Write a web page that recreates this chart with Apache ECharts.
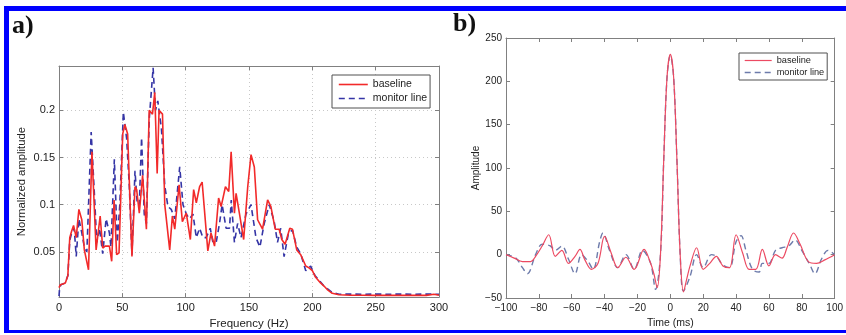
<!DOCTYPE html>
<html><head><meta charset="utf-8">
<script src="https://cdn.jsdelivr.net/npm/echarts@6/dist/echarts.min.js"></script>
<style>html,body{margin:0;padding:0;background:#fff}#c{width:846px;height:335px}</style>
</head><body><div id="c"></div>
<script>
// Panel a: spectra
const freqBase = [0,1,3,5,7,8.5,10,11.5,13.6,15.7,18,20,21.5,23.3,26,29.3,32.5,34.5,36.4,39.8,41.6,43.5,45.5,47.4,50.3,52,54.2,57.6,60,61.3,63.4,66,69,71.2,73.8,75.6,77.5,79,81.7,83.5,87.4,89.5,91.4,94.8,97.4,100.5,103.7,106.3,108.4,111,113,117.5,120,122.8,126,128,131.4,134,135.9,138.5,139.8,142.4,145.8,149,151.6,154.2,156.8,160.7,164.7,167.3,170.7,173.8,175.9,178.5,182.2,184.3,187.7,190.8,194.8,197.4,200,202.6,206.5,209,211.8,215.7,221,230,240,250,260,270,280,290,296,300];
const ampBase = [0.012,0.015,0.016,0.017,0.025,0.065,0.072,0.078,0.065,0.095,0.084,0.052,0.052,0.031,0.156,0.052,0.088,0.054,0.056,0.056,0.040,0.105,0.047,0.049,0.175,0.185,0.175,0.045,0.119,0.116,0.091,0.131,0.074,0.200,0.196,0.219,0.133,0.200,0.196,0.100,0.052,0.088,0.074,0.121,0.082,0.091,0.063,0.116,0.102,0.119,0.124,0.051,0.070,0.056,0.107,0.098,0.119,0.114,0.156,0.091,0.112,0.091,0.063,0.119,0.153,0.140,0.084,0.074,0.105,0.098,0.074,0.074,0.063,0.058,0.075,0.074,0.052,0.047,0.035,0.033,0.030,0.023,0.017,0.014,0.010,0.006,0.0045,0.004,0.004,0.0038,0.004,0.0038,0.004,0.0038,0.005,0.004];
const freqMon = [0,0.5,1.5,3,5,7,8.5,10,12,13.6,15.7,18,20,22,25.4,28,29.8,32,34.5,37.2,39.8,41,43.7,46,48,50.8,53.4,55.5,57.6,60,61.8,63.4,65.2,67.3,69,71.2,74.3,76.2,78,80.9,83.5,86,88.6,91.4,95.3,97.9,100.5,103.1,105.8,108.4,111,113.6,116.2,119.4,121.5,124.1,126.7,128.8,131.9,134.6,136,138.5,141,143.7,147.6,151.6,155.5,158.6,162,166,169.9,172.5,175,177.7,181.2,184.3,187.7,190.8,194.8,198.7,202,206.5,209,211.8,215.7,221,230,240,250,260,270,280,290,300];
const ampMon = [0.003,0.012,0.015,0.016,0.017,0.025,0.062,0.07,0.075,0.045,0.085,0.07,0.055,0.05,0.177,0.11,0.06,0.075,0.048,0.085,0.07,0.055,0.148,0.06,0.1,0.198,0.17,0.12,0.047,0.136,0.1,0.1,0.171,0.09,0.08,0.19,0.245,0.2,0.21,0.18,0.12,0.098,0.095,0.085,0.14,0.1,0.09,0.085,0.09,0.065,0.075,0.065,0.065,0.075,0.06,0.06,0.08,0.1,0.075,0.075,0.105,0.06,0.08,0.065,0.09,0.1,0.065,0.055,0.08,0.1,0.082,0.06,0.075,0.045,0.07,0.073,0.055,0.048,0.03,0.035,0.025,0.018,0.014,0.011,0.007,0.005,0.0052,0.005,0.0052,0.005,0.0052,0.005,0.0052,0.005];
const yTicksA = [0.05,0.1,0.15,0.2];

// Panel b: cross-correlations
const timeBase = [-100,-95,-90,-85,-82,-78,-74,-70,-66,-62,-58,-55,-52,-48,-44,-40,-36,-32,-27,-22,-16,-12,-10,-8,-6,-4,-2,0,2,4,6,8,10,12,16,20,24,28,32,36,40,44,48,52,56,60,64,68,71,75,79,84,89,94,100];
const corrBase = [0,-4,-8,-8,-2,10,23,-2,5,-10,-2,6,-6,-17,-10,21,2,-15,-3,-17,6,-10,-22,-38,0,110,205,231,205,110,0,-43,-28,-13,8,-17,-10,-2,-13,-15,23,2,-17,-17,6,-13,0,-4,8,25,12,-8,-10,-6,0];
const timeMon = [-100,-94,-90,-87,-82,-78,-73,-70,-66,-62,-58,-54,-50,-47,-43,-41,-37,-32,-27,-22,-17,-12,-9,-6,-4,-2,0,2,4,6,8,12,16,20,25,28,32,36,40,43,46,50,54,56,60,64,68,72,76,80,85,88,92,96,100];
const corrMon = [0,-4,-15,-22,0,12,10,5,10,-5,-22,0,-8,-17,15,25,5,-15,0,-17,5,-10,-40,0,110,205,230,205,110,0,-42,-25,0,-15,0,-2,-12,-15,15,22,5,-17,-20,-10,-10,5,8,10,17,5,-12,-22,-5,5,0];

const seriesNames = ['baseline','monitor line'];
const zip = (xs, ys) => xs.map((x, i) => [x, ys[i]]);
const minus = v => String(v).replace('-', '\u2212');

const AX = '#808080', TXT = '#222';
const FONT = '"Liberation Sans", Arial, sans-serif';
const redA = '#f22a2a', blueA = '#3535a6', redB = '#ec4a62', blueB = '#6d7bab';

function xAx(grid, min, max, interval, top, fs, name, gap, split, nfs) {
  return {
    type: 'value', gridIndex: grid, min, max, interval, position: top ? 'top' : 'bottom',
    axisLine: { show: true, onZero: false, lineStyle: { color: AX, width: 1 } },
    axisTick: { show: true, inside: true, length: 4, lineStyle: { color: AX } },
    axisLabel: { show: !top, fontSize: fs, color: TXT, fontFamily: FONT, margin: 5, formatter: minus },
    splitLine: { show: !!split, lineStyle: { color: '#c8c8c8', type: [1, 3], width: 1 } },
    name: top ? '' : name, nameLocation: 'middle', nameGap: gap,
    nameTextStyle: { fontSize: nfs || fs, color: TXT, fontFamily: FONT }
  };
}
function yAx(grid, min, max, interval, right, fs, name, gap, split, custom, nfs) {
  const o = {
    type: 'value', gridIndex: grid, min, max, position: right ? 'right' : 'left',
    axisLine: { show: true, onZero: false, lineStyle: { color: AX, width: 1 } },
    axisTick: { show: true, inside: true, length: 4, lineStyle: { color: AX } },
    axisLabel: { show: !right, fontSize: fs, color: TXT, fontFamily: FONT, margin: 4, formatter: minus },
    splitLine: { show: !!split, lineStyle: { color: '#c8c8c8', type: [1, 3], width: 1 } },
    name: right ? '' : name, nameLocation: 'middle', nameGap: gap,
    nameTextStyle: { fontSize: nfs || fs, color: TXT, fontFamily: FONT }
  };
  if (interval) o.interval = interval;
  if (custom) { o.axisTick.customValues = custom; o.axisLabel.customValues = custom; }
  return o;
}

const chart = echarts.init(document.getElementById('c'), null, { renderer: 'canvas' });
chart.setOption({
  animation: false,
  backgroundColor: '#fff',
  grid: [
    { left: 59, right: 407, top: 66, bottom: 37 },
    { left: 506, right: 11, top: 38, bottom: 37 }
  ],
  xAxis: [
    xAx(0, 0, 300, 50, false, 11, 'Frequency (Hz)', 19, true, 11.5),
    xAx(0, 0, 300, 50, true, 11, '', 0, false),
    xAx(1, -100, 100, 20, false, 10, 'Time (ms)', 15, false, 10.5),
    xAx(1, -100, 100, 20, true, 10, '', 0, false)
  ],
  yAxis: [
    yAx(0, 0.002, 0.247, null, false, 11, 'Normalized amplitude', 32, true, yTicksA, 11.3),
    yAx(0, 0.002, 0.247, null, true, 11, '', 0, false, yTicksA),
    yAx(1, -50, 250, 50, false, 10, 'Amplitude', 23, false, null, 10),
    yAx(1, -50, 250, 50, true, 10, '', 0, false)
  ],
  legend: [
    {
      data: [
        { name: seriesNames[0], itemStyle: { opacity: 0 }, lineStyle: { color: redA, width: 1.6, type: 'solid' } },
        { name: seriesNames[1], itemStyle: { opacity: 0 }, lineStyle: { color: blueA, width: 1.6, type: [6, 4] } }
      ],
      left: 332, top: 75, orient: 'vertical', itemWidth: 29, itemHeight: 10, itemGap: 3,
      padding: [4, 3, 4, 6], borderColor: '#505050', borderWidth: 1, backgroundColor: '#fff',
      textStyle: { fontSize: 10.5, color: TXT, fontFamily: FONT }, selectedMode: false
    },
    {
      data: [
        { name: seriesNames[0], itemStyle: { opacity: 0 }, lineStyle: { color: redB, width: 1.2, type: 'solid' } },
        { name: seriesNames[1], itemStyle: { opacity: 0 }, lineStyle: { color: blueB, width: 1.4, type: [6, 4] } }
      ],
      left: 739, top: 53, orient: 'vertical', itemWidth: 27, itemHeight: 9, itemGap: 3,
      padding: [3, 3, 3, 5], borderColor: '#505050', borderWidth: 1, backgroundColor: '#fff',
      textStyle: { fontSize: 9.2, color: TXT, fontFamily: FONT }, selectedMode: false
    }
  ],
  series: [
    { name: seriesNames[0], type: 'line', xAxisIndex: 0, yAxisIndex: 0, data: zip(freqBase, ampBase), symbol: 'none', lineStyle: { color: redA, width: 1.6 }, itemStyle: { color: redA }, z: 3 },
    { name: seriesNames[1], type: 'line', xAxisIndex: 0, yAxisIndex: 0, data: zip(freqMon, ampMon), symbol: 'none', lineStyle: { color: blueA, width: 1.6, type: [6, 4] }, itemStyle: { color: blueA }, z: 2 },
    { name: seriesNames[0], type: 'line', xAxisIndex: 2, yAxisIndex: 2, data: zip(timeBase, corrBase), symbol: 'none', smooth: 0.35, lineStyle: { color: redB, width: 1.2 }, itemStyle: { color: redB }, z: 3 },
    { name: seriesNames[1], type: 'line', xAxisIndex: 2, yAxisIndex: 2, data: zip(timeMon, corrMon), symbol: 'none', smooth: 0.35, lineStyle: { color: blueB, width: 1.4, type: [6, 4] }, itemStyle: { color: blueB }, z: 2 }
  ],
  graphic: [
    { type: 'rect', shape: { x: 4, y: 6, width: 842, height: 5 }, style: { fill: '#0000ff' }, z: 100 },
    { type: 'rect', shape: { x: 4, y: 6, width: 5, height: 327 }, style: { fill: '#0000ff' }, z: 100 },
    { type: 'rect', shape: { x: 4, y: 330, width: 842, height: 3 }, style: { fill: '#0000ff' }, z: 100 },
    { type: 'text', x: 12, y: 26, style: { text: 'a)', font: 'bold 26px "Liberation Serif", serif', fill: '#111', verticalAlign: 'middle' }, z: 100 },
    { type: 'text', x: 453, y: 24, style: { text: 'b)', font: 'bold 26px "Liberation Serif", serif', fill: '#111', verticalAlign: 'middle' }, z: 100 }
  ]
});
</script>
</body></html>
